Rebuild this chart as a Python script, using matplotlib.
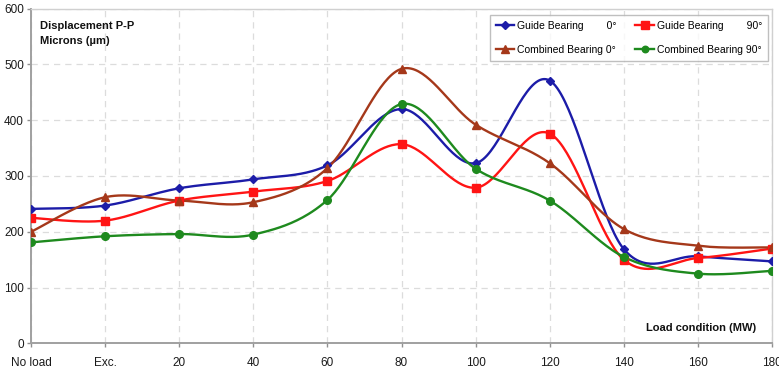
import numpy as np
import matplotlib
matplotlib.use("Agg")
import matplotlib.pyplot as plt
from matplotlib.lines import Line2D

plt.rcParams['font.family'] = ['Liberation Sans', 'DejaVu Sans']

categories = ["No load", "Exc.", "20", "40", "60", "80", "100", "120", "140", "160", "180"]
guide_0 = [241, 247, 278, 294, 319, 420, 323, 471, 169, 156, 147]
guide_90 = [225, 220, 256, 272, 291, 357, 279, 376, 150, 153, 170]
combined_0 = [200, 262, 256, 253, 314, 492, 392, 323, 205, 175, 172]
combined_90 = [181, 192, 196, 195, 257, 429, 313, 256, 155, 125, 130]

series = [
    ("Guide Bearing", "0°", guide_0, "#1c1ca8", "D", 4.5),
    ("Guide Bearing", "90°", guide_90, "#ff1414", "s", 6.0),
    ("Combined Bearing", "0°", combined_0, "#a5381a", "^", 6.0),
    ("Combined Bearing", "90°", combined_90, "#1e8a1e", "o", 5.5),
]


def smooth(xs, ys, n=40):
    P = np.column_stack([np.asarray(xs, float), np.asarray(ys, float)])
    out = []
    m = len(P)
    for i in range(m - 1):
        p0 = P[i - 1] if i > 0 else P[i]
        p1 = P[i]
        p2 = P[i + 1]
        p3 = P[i + 2] if i + 2 < m else P[i + 1]
        b1 = p1 + (p2 - p0) / 6.0
        b2 = p2 - (p3 - p1) / 6.0
        t = np.linspace(0, 1, n)[:, None]
        seg = ((1 - t) ** 3) * p1 + 3 * ((1 - t) ** 2) * t * b1 + 3 * (1 - t) * t ** 2 * b2 + t ** 3 * p2
        out.append(seg if i == 0 else seg[1:])
    c = np.vstack(out)
    return c[:, 0], c[:, 1]


fig = plt.figure(figsize=(7.79, 3.72), dpi=100)
ax = fig.add_axes([31 / 779, 1 - 343.4 / 372, (772 - 31) / 779, (343.4 - 8.6) / 372])

x = np.arange(len(categories))
handles = []
for name, deg, vals, col, mk, ms in series:
    sx, sy = smooth(x, vals)
    ax.plot(sx, sy, color=col, lw=1.7, zorder=3, solid_capstyle='round')
    ax.plot(x, vals, linestyle='none', marker=mk, color=col, markersize=ms, zorder=4)
    handles.append(Line2D([], [], color=col, lw=1.7, marker=mk, markersize=ms * 0.85))

ax.set_xlim(0, len(categories) - 1)
ax.set_ylim(0, 600)
ax.set_xticks(x)
ax.set_xticklabels(categories)
ax.set_yticks(np.arange(0, 601, 100))
ax.tick_params(axis='both', labelsize=8.5, colors='#909090', length=3, width=1, labelcolor='#1a1a1a')
ax.tick_params(axis='x', pad=7)
ax.tick_params(axis='y', pad=2)

ax.grid(True, color='#dcdcdc', linestyle=(0, (5, 4)), lw=0.9)
ax.set_axisbelow(True)
for s in ['left', 'bottom']:
    ax.spines[s].set_color('#a0a0a0')
    ax.spines[s].set_linewidth(1.4)
for s in ['top', 'right']:
    ax.spines[s].set_color('#d0d0d0')
    ax.spines[s].set_linewidth(1.0)

ax.text(0.012, 0.962, "Displacement P-P\nMicrons (µm)", transform=ax.transAxes,
        fontsize=8, fontweight='bold', va='top', ha='left', linespacing=1.6, color='#111111')
ax.text(0.978, 0.03, "Load condition (MW)", transform=ax.transAxes,
        fontsize=8, fontweight='bold', va='bottom', ha='right', color='#111111')

# pad legend labels with spaces so the angle column lines up
leg_fs = 7.5
renderer = fig.canvas.get_renderer()


def text_w(s):
    t = fig.text(0, 0, s, fontsize=leg_fs)
    w = t.get_window_extent(renderer).width
    t.remove()
    return w


names = [s[0] for s in series]
target = max(text_w(n) for n in names) + text_w("a a") - text_w("aa")
labels = []
for name, deg, *_ in series:
    best = min(range(1, 15), key=lambda k: abs(text_w(name + " " * k + "0") - text_w("0") - target))
    labels.append(name + " " * best + deg)

order = [0, 2, 1, 3]
leg = ax.legend([handles[i] for i in order], [labels[i] for i in order], ncol=2,
                loc='upper left', bbox_to_anchor=((490 - 31) / 741, 1 - (15 - 8.6) / 334.8),
                bbox_transform=ax.transAxes, fontsize=leg_fs, frameon=True, fancybox=False,
                handlelength=1.8, handletextpad=0.25, columnspacing=1.8, borderpad=0.55,
                labelspacing=1.35, borderaxespad=0)
leg.get_frame().set_edgecolor('#b0b0b0')
leg.get_frame().set_linewidth(1.0)

fig.savefig("out.png", dpi=100)
